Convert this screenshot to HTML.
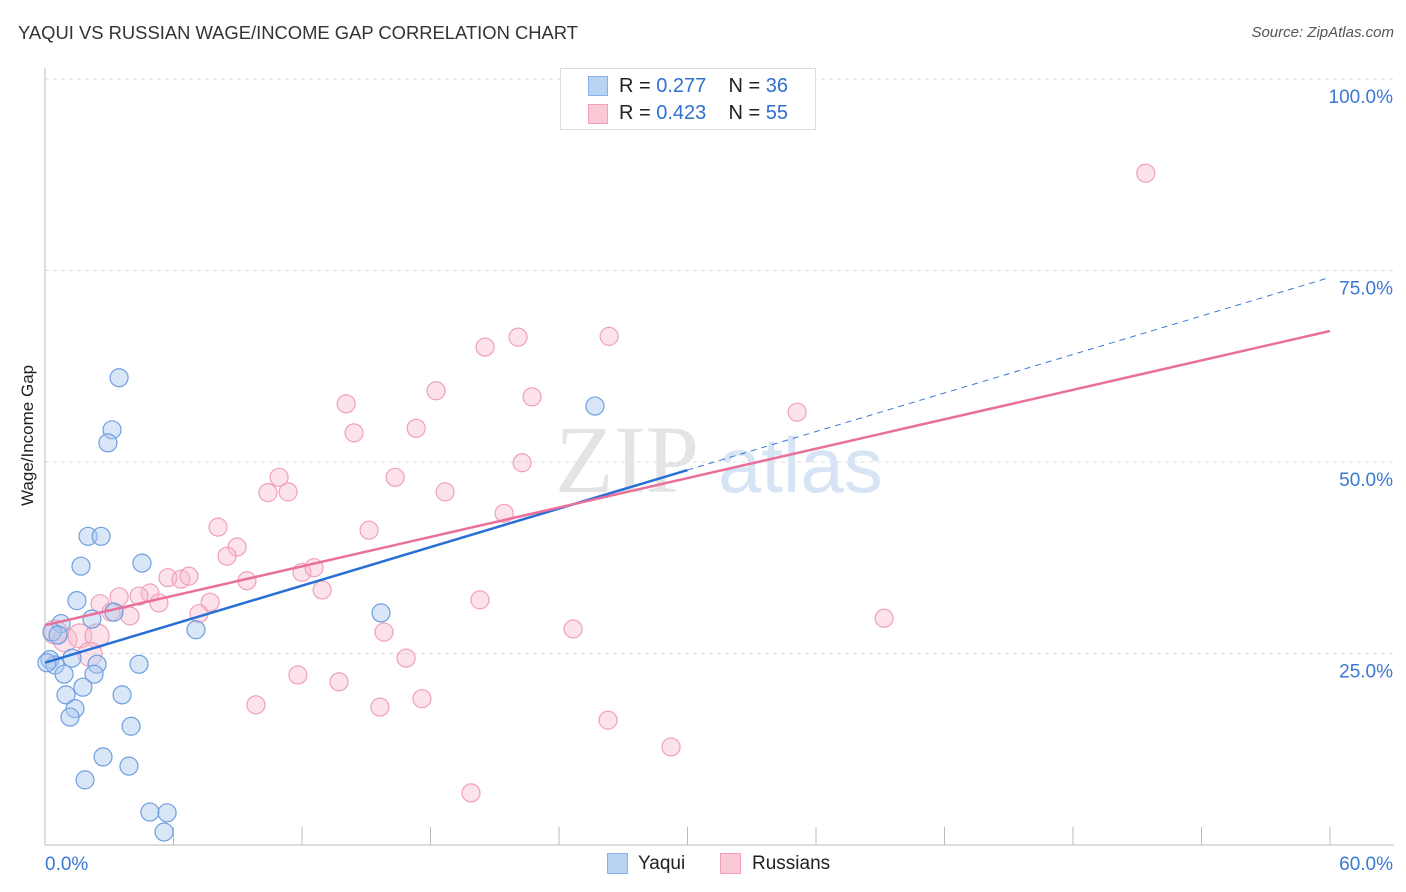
<!DOCTYPE html>
<html><head><meta charset="utf-8">
<style>
body{margin:0;background:#fff;font-family:"Liberation Sans",sans-serif;}
#wrap{position:relative;width:1406px;height:892px;overflow:hidden;}
.t{position:absolute;white-space:nowrap;}
</style></head>
<body>
<div id="wrap">
<div class="t" style="left:18px;top:22px;font-size:18.4px;color:#333;">YAQUI VS RUSSIAN WAGE/INCOME GAP CORRELATION CHART</div>
<div class="t" style="right:12px;top:24px;font-size:15px;color:#555;font-style:italic;">Source: ZipAtlas.com</div>
<div class="t" style="left:-22px;top:446px;font-size:17px;color:#222;transform:rotate(-90deg);transform-origin:center;width:100px;text-align:center;">Wage/Income Gap</div>
<svg id="svg" width="1406" height="892" style="position:absolute;left:0;top:0;"></svg>
<div style="position:absolute;left:560px;top:68px;width:256px;height:62px;border:1px solid #ddd;background:#fff;box-sizing:border-box;font-size:20px;">
 <div style="position:absolute;left:27px;top:7px;width:20px;height:20px;background:#b9d3f5;border:1px solid #8ab2e8;box-sizing:border-box;"></div>
 <div class="t" style="left:58px;top:6px;color:#222;">R = <span style="color:#2f6fd0">0.277</span>&nbsp;&nbsp;&nbsp; N = <span style="color:#2f6fd0">36</span></div>
 <div style="position:absolute;left:27px;top:35px;width:20px;height:20px;background:#fbc8d6;border:1px solid #f0a0b8;box-sizing:border-box;"></div>
 <div class="t" style="left:58px;top:33px;color:#222;">R = <span style="color:#2f6fd0">0.423</span>&nbsp;&nbsp;&nbsp; N = <span style="color:#2f6fd0">55</span></div>
</div>
<div style="position:absolute;left:607px;top:853px;width:21px;height:21px;background:#b9d3f5;border:1px solid #8ab2e8;box-sizing:border-box;"></div>
<div class="t" style="left:638px;top:853px;font-size:19px;color:#222;">Yaqui</div>
<div style="position:absolute;left:720px;top:853px;width:21px;height:21px;background:#fbc8d6;border:1px solid #f0a0b8;box-sizing:border-box;"></div>
<div class="t" style="left:752px;top:853px;font-size:19px;color:#222;">Russians</div>
</div>
<script>
const yaquiX=[3.46,3.13,2.94,2.01,2.62,1.68,4.53,1.49,0.75,2.19,3.22,0.33,0.61,0.23,0.47,1.26,2.43,4.39,0.89,2.29,1.77,0.98,3.60,1.40,1.17,4.02,2.71,3.92,1.87,4.90,5.70,5.56,7.05,15.69,25.68,0.09];
const yaquiY=[61.0,54.2,52.5,40.3,40.3,36.4,36.8,31.9,28.9,29.5,30.4,27.8,27.4,24.2,23.5,24.4,23.6,23.6,22.3,22.3,20.6,19.6,19.6,17.8,16.7,15.5,11.5,10.3,8.5,4.3,4.2,1.7,28.1,30.3,57.3,23.8];
const rusX=[51.4,22.09,26.34,20.55,18.26,22.74,14.06,35.12,14.43,17.33,22.28,16.35,10.93,10.41,11.35,18.68,8.08,15.13,8.97,8.50,21.44,9.43,5.74,6.35,6.72,12.00,12.56,12.94,4.90,4.39,3.46,5.32,7.71,2.57,3.08,3.97,7.19,20.31,39.18,24.66,15.83,0.47,0.93,1.63,2.43,2.10,16.86,11.81,13.73,9.85,15.64,17.60,26.29,29.23,19.89];
const rusY=[87.7,66.3,66.4,65.0,59.3,58.5,57.6,56.5,53.8,54.4,49.9,48.0,48.0,46.0,46.1,46.1,41.5,41.1,38.9,37.7,43.3,34.5,34.9,34.7,35.1,35.6,36.2,33.3,32.9,32.5,32.4,31.6,31.7,31.5,30.4,29.9,30.2,32.0,29.6,28.2,27.8,27.8,26.8,27.3,27.3,24.9,24.4,22.2,21.3,18.3,18.0,19.1,16.3,12.8,6.8];
const yaquiTrend=[23.8,74.1];
const rusTrend=[28.7,67.1];
const xTicks=[0,6,12,18,24,30,36,42,48,54,60];
const yGrid=[100,75,50,25];
const yTickLabels=["100.0%","75.0%","50.0%","25.0%"];
const xTickLabels=["0.0%","60.0%"];

const X0=45,X1=1330,Y0=845,Y1=79;
const sx=v=>X0+(v/60)*(X1-X0);
const sy=v=>Y0-(v/100)*(Y0-Y1);
const svg=document.getElementById('svg');
const NS='http://www.w3.org/2000/svg';
function mk(tag,attrs,name){const e=document.createElementNS(NS,tag);for(const k in attrs)e.setAttribute(k,attrs[k]);


svg.appendChild(e);return e;}
yGrid.forEach((v,i)=>{
 mk('line',{x1:X0,x2:1394,y1:sy(v),y2:sy(v),stroke:'#ddd','stroke-dasharray':'4,4'},'y-gridline');
 const t=mk('text',{x:1393,y:sy(v)+24,'text-anchor':'end','font-size':19,fill:'#3b78d4','font-family':'Liberation Sans'},'y-tick-label');t.textContent=yTickLabels[i];
});
mk('line',{x1:X0,x2:X0,y1:68,y2:Y0,stroke:'#bbb'},'y-axis-line');
mk('line',{x1:X0,x2:1394,y1:Y0,y2:Y0,stroke:'#bbb'},'x-axis-line');
xTicks.forEach(v=>{mk('line',{x1:sx(v),x2:sx(v),y1:Y0-18,y2:Y0,stroke:'#bbb'},'x-tick');});
let tl=mk('text',{x:45,y:870,'font-size':19,fill:'#3b78d4','font-family':'Liberation Sans'},'x-tick-label');tl.textContent=xTickLabels[0];
tl=mk('text',{x:1393,y:870,'text-anchor':'end','font-size':19,fill:'#3b78d4','font-family':'Liberation Sans'},'x-tick-label');tl.textContent=xTickLabels[1];
let w=mk('text',{x:555,y:492,'font-size':96,fill:'#e4e4e4','font-family':'Liberation Serif'},'watermark-zip');w.textContent='ZIP';
w=mk('text',{x:718,y:492,'font-size':78,fill:'#d6e4f5','font-family':'Liberation Sans'},'watermark-atlas');w.textContent='atlas';
rusX.forEach((v,i)=>{mk('circle',{cx:sx(v),cy:sy(rusY[i]),r:(v<3&&rusY[i]<29)?12:9,fill:'rgba(248,185,205,0.4)',stroke:'#f0a0b8','stroke-width':1.2},'russians-point');});
yaquiX.forEach((v,i)=>{mk('circle',{cx:sx(v),cy:sy(yaquiY[i]),r:9,fill:'rgba(170,200,240,0.45)',stroke:'#6f9fe0','stroke-width':1.2},'yaqui-point');});
const by=x=>yaquiTrend[0]+(yaquiTrend[1]-yaquiTrend[0])*x/60;
const ry=x=>rusTrend[0]+(rusTrend[1]-rusTrend[0])*x/60;
mk('line',{x1:sx(30),y1:sy(by(30)),x2:sx(60),y2:sy(by(60)),stroke:'#3b78d4','stroke-width':1,'stroke-dasharray':'6,5'},'yaqui-trend-extension');
mk('line',{x1:sx(0),y1:sy(by(0)),x2:sx(30),y2:sy(by(30)),stroke:'#2a6fd6','stroke-width':2.5},'yaqui-trend-line');
mk('line',{x1:sx(0),y1:sy(ry(0)),x2:sx(60),y2:sy(ry(60)),stroke:'#e8709a','stroke-width':2.5},'russians-trend-line');
</script>
</body></html>
